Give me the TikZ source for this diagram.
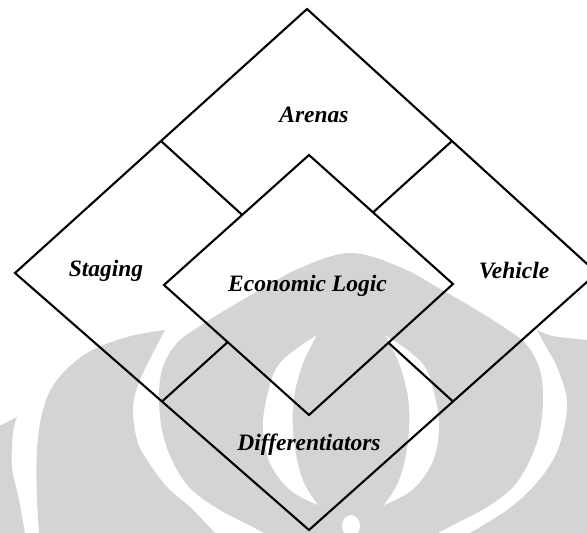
\documentclass[tikz,border=0pt]{standalone}
\usepackage{fontspec}
\setmainfont{Liberation Serif}
\usetikzlibrary{calc}
\definecolor{wmgray}{RGB}{212,212,212}
\begin{document}
\begin{tikzpicture}[x=1pt,y=-1pt,
  edge/.style={line width=2.1pt, line join=miter, draw=black},
  lbl/.style={anchor=base, inner sep=0pt, font=\fontsize{23.5}{28}\selectfont\bfseries\itshape},
  wm/.style={fill=wmgray},
  wmhole/.style={fill=white}]
\useasboundingbox (0,0) rectangle (587,533);
\clip (0,0) rectangle (587,533);

% ---- faint seal in the background ----
% central rounded body
\fill[wm] plot[smooth cycle, tension=0.6] coordinates {
  (351,253) (402,268) (442,290) (470,306) (502,326) (525,343) (539,367)
  (543,395) (540,430) (530,460) (513,487) (487,507) (455,524) (420,540)
  (351,556) (282,540) (247,524) (215,507) (189,487) (172,460) (162,430)
  (159,395) (163,367) (177,343) (200,326) (232,306) (260,290) (300,268)};
% left part of the outer ring
\fill[wm] plot[smooth, tension=0.6] coordinates {
  (165,330) (127,337) (87,353) (57,380) (43,410) (37,450) (37,500) (40,545)}
  -- (235,545)
  -- plot[smooth, tension=0.6] coordinates {
  (215,533) (190,507) (167,487) (147,460) (137,440) (133,407) (140,380)
  (153,353) (165,330)} -- cycle;
% far-left sliver of the ring
\fill[wm] plot[smooth, tension=0.6] coordinates {
  (17,417) (13,433) (12,467) (19,500) (27,545)} -- (-5,545) -- (-5,428) -- cycle;
% right part of the outer ring
\fill[wm] plot[smooth, tension=0.6] coordinates {
  (537,330) (553,336) (587,340) (600,342)} -- (600,545) -- (460,545)
  -- plot[smooth, tension=0.6] coordinates {
  (470,533) (507,510) (533,487) (553,460) (563,433) (567,400) (557,367)
  (545,345) (537,330)} -- cycle;
% left and right crescents cut out of the body
\fill[wmhole] plot[smooth, tension=0.6] coordinates {
  (317,335) (280,363) (267,397) (263,430) (270,463) (290,490) (318,505)}
  -- plot[smooth, tension=0.6] coordinates {
  (318,505) (305,485) (297,460) (293,430) (294,397) (303,363) (317,335)} -- cycle;
\fill[wmhole] plot[smooth, tension=0.6] coordinates {
  (385,335) (422,363) (435,397) (439,430) (432,463) (412,490) (384,505)}
  -- plot[smooth, tension=0.6] coordinates {
  (384,505) (397,485) (405,460) (409,430) (408,397) (399,363) (385,335)} -- cycle;
\fill[wmhole] (351,526) ellipse [x radius=9, y radius=11];

% ---- outer diamond ----
\coordinate (T) at (307,9);
\coordinate (L) at (15,273);
\coordinate (B) at (309,530);
\coordinate (R) at (597,273);
% ---- inner diamond ----
\coordinate (iT) at (309,155);
\coordinate (iL) at (164,285);
\coordinate (iB) at (309,415);
\coordinate (iR) at (453,284);
% edge midpoints of the outer diamond
\coordinate (mTL) at ($(T)!0.5!(L)$);
\coordinate (mTR) at ($(T)!0.5!(R)$);
\coordinate (mBL) at ($(B)!0.5!(L)$);
\coordinate (mBR) at ($(B)!0.5!(R)$);
% where the dividers meet the inner diamond
\coordinate (aTL) at ($(mTL)+(R)-(T)$);
\coordinate (aTR) at ($(mTR)+(L)-(T)$);
\coordinate (aBL) at ($(mBL)+(T)-(L)$);
\coordinate (aBR) at ($(mBR)+(T)-(R)$);
\coordinate (dTL) at (intersection of mTL--aTL and iL--iT);
\coordinate (dTR) at (intersection of mTR--aTR and iR--iT);
\coordinate (dBL) at (intersection of mBL--aBL and iL--iB);
\coordinate (dBR) at (intersection of mBR--aBR and iR--iB);

\draw[edge] (T) -- (R) -- (B) -- (L) -- cycle;
\draw[edge] (iT) -- (iR) -- (iB) -- (iL) -- cycle;
\draw[edge] (mTL) -- (dTL);
\draw[edge] (mTR) -- (dTR);
\draw[edge] (mBL) -- (dBL);
\draw[edge] (mBR) -- (dBR);

% ---- labels ----
\node[lbl] (arenas) at (314,122) {Arenas};
\node[lbl] (staging) at (106,276.5) {Staging};
\node[lbl] (logic) at (307.5,291.5) {Economic Logic};
\node[lbl] (vehicle) at (514,278) {Vehicle};
\node[lbl] (diff) at (309,450) {Differentiators};
\end{tikzpicture}
\end{document}
